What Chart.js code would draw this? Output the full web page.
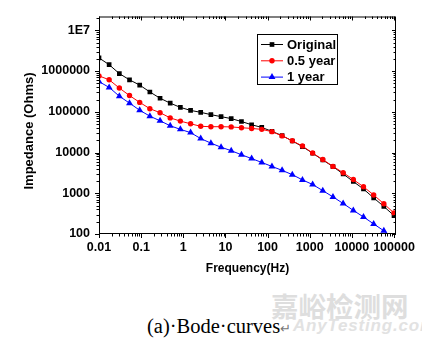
<!DOCTYPE html>
<html>
<head>
<meta charset="utf-8">
<script src="https://cdn.jsdelivr.net/npm/chart.js@4.4.1/dist/chart.umd.min.js"></script>
<style>
  html, body { margin: 0; padding: 0; background: #fff; }
  body { width: 422px; height: 344px; position: relative; overflow: hidden; }
  #wrap { position: absolute; left: 0; top: 0; width: 422px; height: 280px; }
  .wm-cn { position: absolute; left: 271px; top: 285px; font: bold 27.5px "Noto Sans CJK SC", sans-serif; color: #dedede; white-space: nowrap; }
  .wm-en { position: absolute; left: 293px; top: 316px; font: italic bold 17px "Liberation Sans", Arial, sans-serif; color: #e2e2e2; white-space: nowrap; letter-spacing: 0.8px; }
  .caption { position: absolute; left: 147px; top: 315px; font: 20.5px "Liberation Serif", "Times New Roman", serif; color: #000; white-space: nowrap; }
  .caption .ret { color: #777; font-family: "DejaVu Sans", sans-serif; font-size: 13px; }
</style>
</head>
<body>
<div class="wm-cn">嘉峪检测网</div>
<div class="wm-en">AnyTesting.com</div>
<div id="wrap"><canvas id="myChart"></canvas></div>
<div class="caption">(a)·Bode·curves<span class="ret">↵</span></div>
<script>
// frequency points (Hz)
var freqHz = [0.01, 0.0174, 0.0304, 0.053, 0.0924, 0.161, 0.281, 0.489, 0.853, 1.49,
              2.59, 4.52, 7.88, 13.7, 24.0, 41.8, 72.8, 127, 221, 386,
              672, 1172, 2043, 3562, 6210, 10826, 18874, 32903, 57362, 100000];

// impedance (Ohms)
var original = [2.1e6, 1.43e6, 8.65e5, 6.08e5, 4.52e5, 3.06e5, 2.15e5, 1.63e5, 1.28e5, 1.08e5,
                9.7e4, 8.5e4, 7.6e4, 6.8e4, 5.77e4, 4.8e4, 4.13e4, 3.3e4, 2.6e4, 1.92e4,
                1.40e4, 9.6e3, 6.55e3, 4.52e3, 2.97e3, 1.94e3, 1.27e3, 769, 474, 283];
var halfYear = [7.6e5, 6.1e5, 3.82e5, 2.5e5, 1.7e5, 1.19e5, 9.5e4, 7.08e4, 5.9e4, 5.07e4,
                4.4e4, 4.3e4, 4.3e4, 4.25e4, 4.06e4, 3.9e4, 3.7e4, 3.25e4, 2.56e4, 1.94e4,
                1.44e4, 9.7e3, 6.73e3, 4.56e3, 3.2e3, 2.17e3, 1.44e3, 910, 552, 327];
var oneYear = [5.5e5, 3.97e5, 2.41e5, 1.63e5, 1.09e5, 7.8e4, 6.0e4, 4.54e4, 3.7e4, 3.08e4,
               2.2e4, 1.7e4, 1.35e4, 1.11e4, 8.8e3, 7.1e3, 5.7e3, 4.56e3, 3.65e3, 2.86e3,
               2.13e3, 1.64e3, 1.16e3, 815, 561, 380, 262, 177, 120, 77];

var seriesNames = ["Original", "0.5 year", "1 year"];

var xTickValues = [0.01, 0.1, 1, 10, 100, 1000, 10000, 100000];
var xTickLabels = ["0.01", "0.1", "1", "10", "100", "1000", "10000", "100000"];
var yTickValues = [100, 1000, 10000, 100000, 1000000, 10000000];
var yTickLabels = ["100", "1000", "10000", "100000", "1000000", "1E7"];

function pts(ys) {
  return ys.map(function (y, i) { return {x: freqHz[i], y: y}; });
}

// major + minor (2..9) ticks for a log axis
function logTicks(scale) {
  var out = [];
  var lo = Math.floor(Math.log10(scale.min)), hi = Math.ceil(Math.log10(scale.max));
  for (var e = lo; e <= hi; e++) {
    for (var m = 1; m <= 9; m++) {
      var v = m * Math.pow(10, e);
      if (v >= scale.min * 0.9999 && v <= scale.max) out.push({value: v, major: m === 1});
    }
  }
  scale.ticks = out;
}

function labelFor(values, labels) {
  return function (value) {
    for (var i = 0; i < values.length; i++) {
      if (Math.abs(value / values[i] - 1) < 1e-6) return labels[i];
    }
    return "";
  };
}

Chart.defaults.font.family = "'Liberation Sans', Arial, sans-serif";
Chart.defaults.font.weight = "bold";
Chart.defaults.color = "#000";

// frame + ticks: outward on left/bottom, inward on top/right
var frameTicks = {
  id: "frameTicks",
  afterDraw: function (chart) {
    var ctx = chart.ctx, a = chart.chartArea;
    var xs = chart.scales.x, ys = chart.scales.y;
    ctx.save();
    ctx.strokeStyle = "#000";
    ctx.lineWidth = 1;
    ctx.strokeRect(a.left + 0.5, a.top + 0.5, a.right - a.left - 1, a.bottom - a.top - 1);
    ctx.beginPath();
    xs.ticks.forEach(function (t) {
      var p = Math.round(xs.getPixelForValue(t.value)) + 0.5;
      var len = t.major ? 4 : 2.5;
      ctx.moveTo(p, a.bottom); ctx.lineTo(p, a.bottom + len);
      ctx.moveTo(p, a.top); ctx.lineTo(p, a.top + len);
    });
    ys.ticks.forEach(function (t) {
      var p = Math.round(ys.getPixelForValue(t.value)) + 0.5;
      var len = t.major ? 4 : 2.5;
      ctx.moveTo(a.left - len, p); ctx.lineTo(a.left, p);
      ctx.moveTo(a.right - len, p); ctx.lineTo(a.right, p);
    });
    ctx.stroke();

    // y axis title
    ctx.fillStyle = "#000";
    ctx.font = "bold 13px 'Liberation Sans', Arial, sans-serif";
    ctx.textAlign = "center";
    ctx.textBaseline = "middle";
    ctx.translate(29, 131);
    ctx.rotate(-Math.PI / 2);
    ctx.fillText("Impedance (Ohms)", 0, 0);
    ctx.restore();
  }
};

// boxed legend inside the plot, line + marker samples
var boxLegend = {
  id: "boxLegend",
  afterDraw: function (chart) {
    var ctx = chart.ctx;
    var bx = 257.5, by = 34.5, bw = 80, bh = 50;
    ctx.save();
    ctx.fillStyle = "#fff";
    ctx.fillRect(bx, by, bw, bh);
    ctx.strokeStyle = "#000";
    ctx.lineWidth = 1;
    ctx.strokeRect(bx, by, bw, bh);
    ctx.font = "bold 13px 'Liberation Sans', Arial, sans-serif";
    ctx.textBaseline = "middle";
    ctx.textAlign = "left";
    chart.data.datasets.forEach(function (ds, i) {
      var y = 44.5 + i * 16.3;
      ctx.strokeStyle = ds.borderColor;
      ctx.lineWidth = 1;
      ctx.beginPath();
      ctx.moveTo(261, y); ctx.lineTo(283, y);
      ctx.stroke();
      ctx.fillStyle = ds.pointBackgroundColor;
      Chart.helpers.drawPoint(ctx, {
        pointStyle: ds.pointStyle, radius: ds.pointRadius, rotation: 0, borderWidth: 0
      }, 272, y);
      ctx.fillStyle = "#000";
      ctx.fillText(ds.label, 287, y + 0.5);
    });
    ctx.restore();
  }
};

new Chart("myChart", {
  type: "line",
  data: {
    datasets: [{
      label: seriesNames[0],
      data: pts(original),
      borderColor: "#000000",
      pointBackgroundColor: "#000000",
      pointBorderColor: "#000000",
      pointStyle: "rect",
      pointRadius: 3.3,
      borderWidth: 1,
      pointBorderWidth: 0,
      clip: 0,
      order: 1
    }, {
      label: seriesNames[1],
      data: pts(halfYear),
      borderColor: "#ff0000",
      pointBackgroundColor: "#ff0000",
      pointBorderColor: "#ff0000",
      pointStyle: "circle",
      pointRadius: 2.7,
      borderWidth: 1,
      pointBorderWidth: 0,
      clip: 0,
      order: 0
    }, {
      label: seriesNames[2],
      data: pts(oneYear),
      borderColor: "#0000ff",
      pointBackgroundColor: "#0000ff",
      pointBorderColor: "#0000ff",
      pointStyle: "triangle",
      pointRadius: 4,
      borderWidth: 1,
      pointBorderWidth: 0,
      clip: 0,
      order: 2
    }]
  },
  options: {
    responsive: true,
    maintainAspectRatio: false,
    animation: false,
    devicePixelRatio: 1,
    layout: {padding: {left: 0, top: 13, right: 26, bottom: 0}},
    plugins: {legend: {display: false}, tooltip: {enabled: false}},
    scales: {
      x: {
        type: "logarithmic",
        position: "bottom",
        min: 0.01,
        max: 111500,
        afterBuildTicks: logTicks,
        afterFit: function (s) { s.height = 46; },
        grid: {display: false, drawTicks: false},
        border: {display: false},
        ticks: {
          autoSkip: false, maxRotation: 0, padding: 6,
          font: {size: 12.5, weight: "bold"},
          callback: labelFor(xTickValues, xTickLabels)
        },
        title: {
          display: true, text: "Frequency(Hz)",
          font: {size: 12, weight: "bold"},
          padding: {top: 0, bottom: 4}
        }
      },
      y: {
        type: "logarithmic",
        position: "left",
        min: 100,
        max: 21800000,
        afterBuildTicks: logTicks,
        afterFit: function (s) { s.width = 99; },
        grid: {display: false, drawTicks: false},
        border: {display: false},
        ticks: {
          autoSkip: false, padding: 9,
          font: {size: 12.5, weight: "bold"},
          callback: labelFor(yTickValues, yTickLabels)
        }
      }
    }
  },
  plugins: [frameTicks, boxLegend]
});
</script>
</body>
</html>
